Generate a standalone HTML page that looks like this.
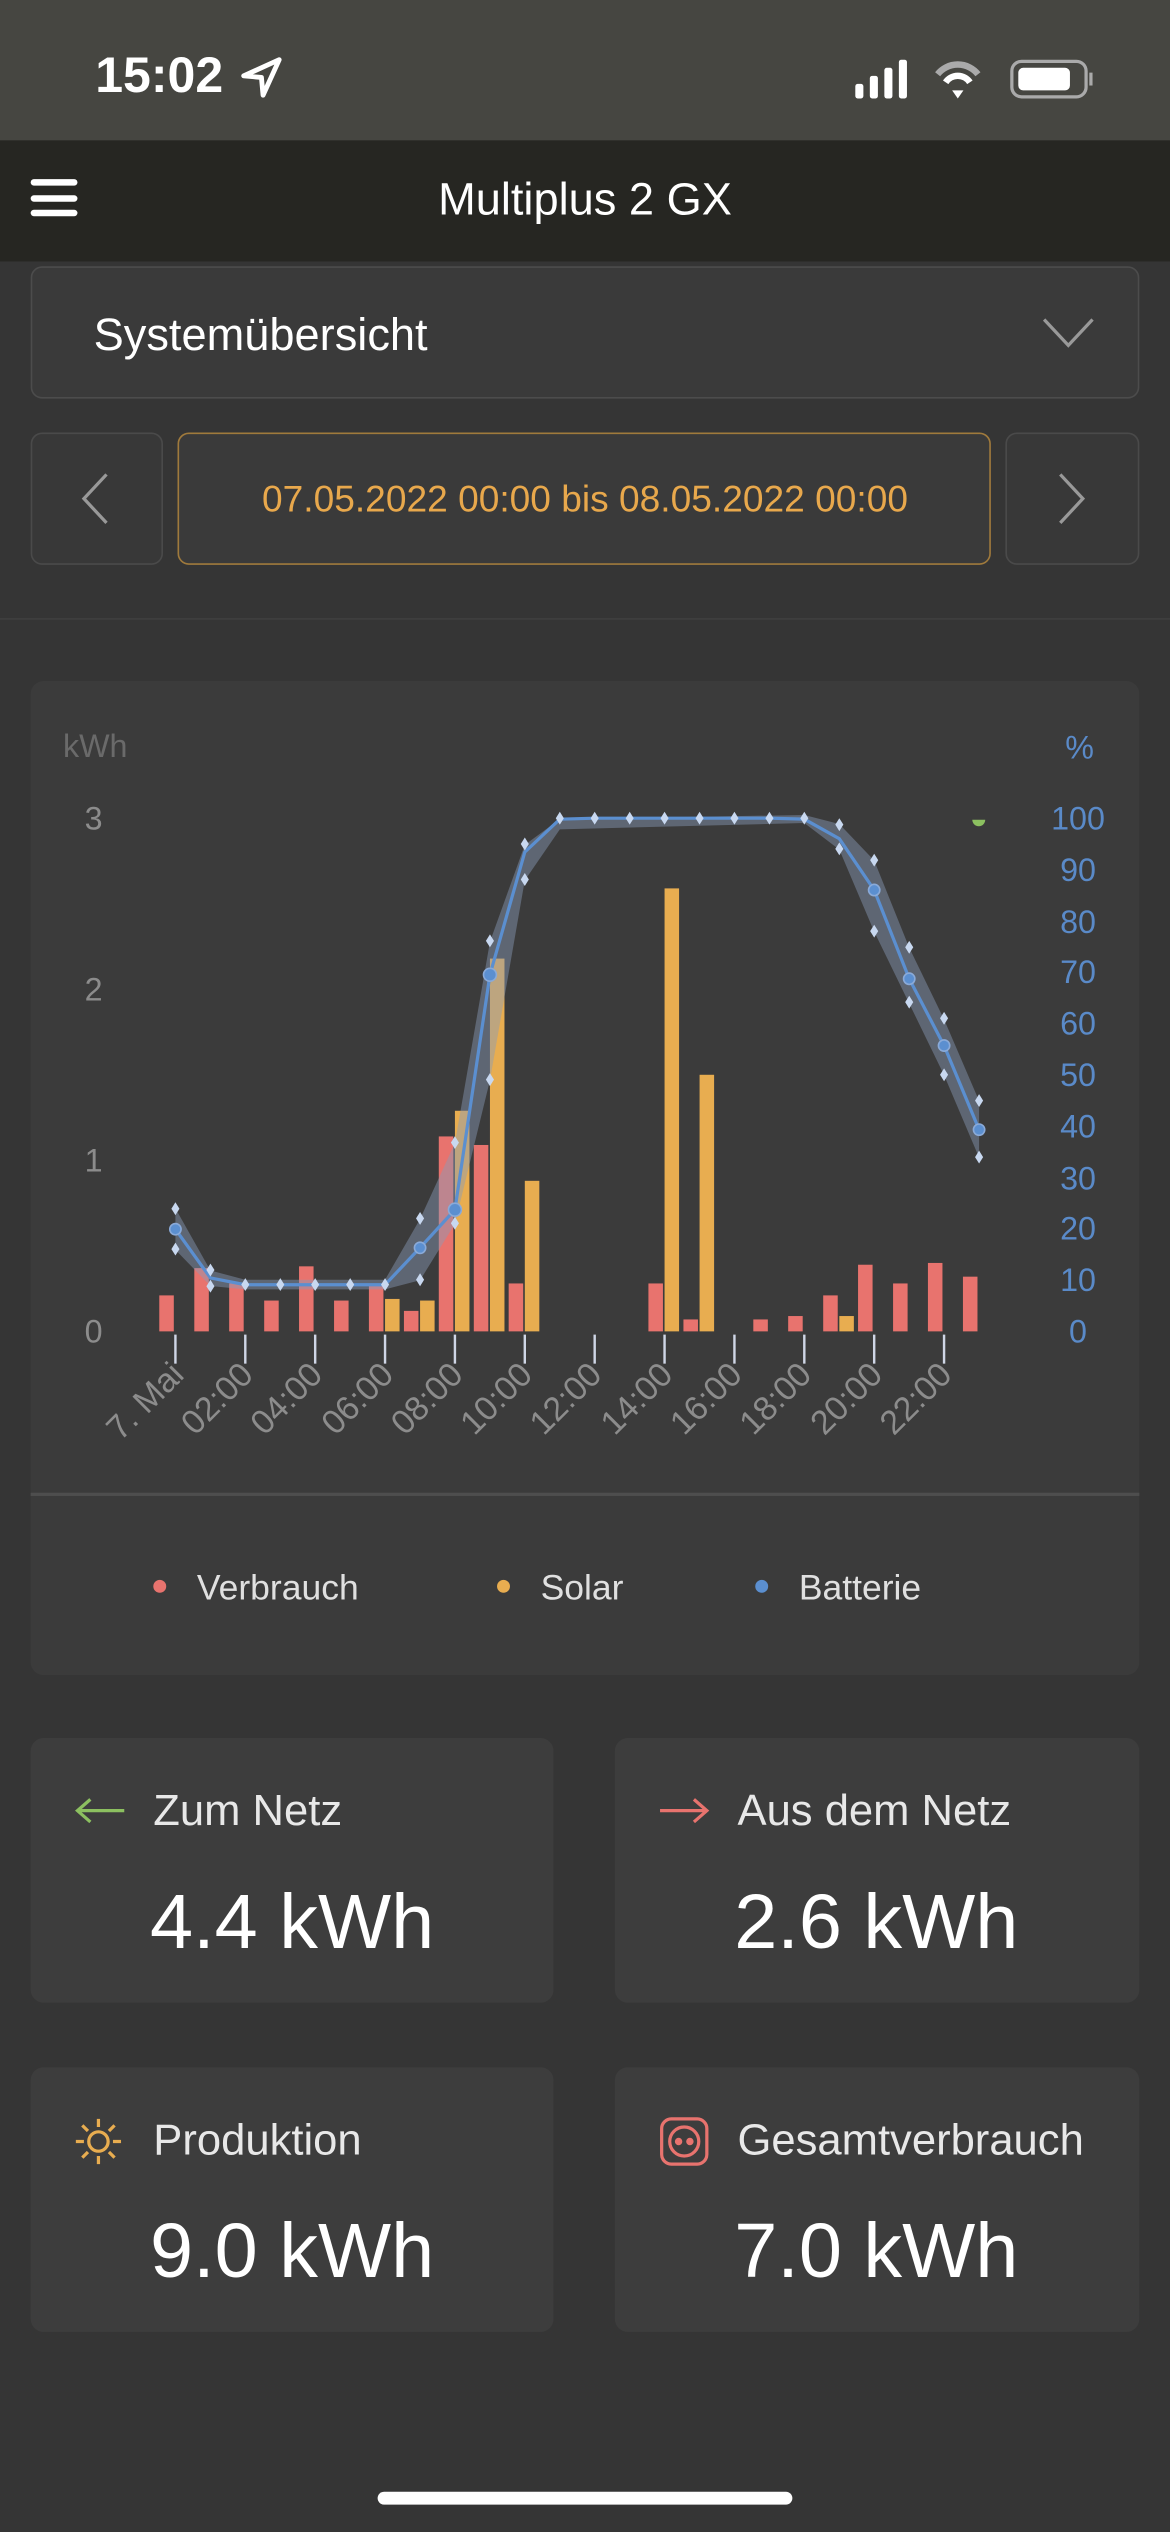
<!DOCTYPE html>
<html><head><meta charset="utf-8"><style>
html,body{margin:0;padding:0;width:1170px;height:2532px;overflow:hidden;background:#353535;}
#w{position:absolute;left:0;top:0;width:725px;height:1569px;transform:scale(1.61379);transform-origin:0 0;background:#353535;font-family:"Liberation Sans",sans-serif;color:#fff;}
.a{position:absolute;}
.card{position:absolute;background:#3d3d3d;border-radius:8px;}
.lbl{position:absolute;font-size:27px;color:#e8e8e8;}
.val{position:absolute;font-size:48px;color:#fff;width:324px;text-align:center;}
</style></head><body><div id="w">
<div class="a" style="left:0;top:0;width:725px;height:87px;background:#464641"></div>
<div class="a" style="left:59px;top:29px;font-size:31px;font-weight:bold;">15:02</div>
<svg class="a" style="left:148px;top:34px" width="28" height="28" viewBox="0 0 28 28"><path d="M25 3 L3 13 L14 14 L15 25 Z" fill="none" stroke="#fff" stroke-width="3" stroke-linejoin="round"/></svg>
<svg class="a" style="left:528px;top:34px" width="150" height="30"><rect x="2" y="18" width="5" height="9" rx="1.5" fill="#fff"/><rect x="11" y="13" width="5" height="14" rx="1.5" fill="#fff"/><rect x="20" y="8" width="5" height="19" rx="1.5" fill="#fff"/><rect x="29" y="3" width="5" height="24" rx="1.5" fill="#fff"/>
<path d="M53 12 a16 16 0 0 1 25 0" stroke="#aaa" stroke-width="4" fill="none"/><path d="M58 17 a9 9 0 0 1 15 0" stroke="#fff" stroke-width="4" fill="none"/><path d="M62 22 L69 22 L65.5 27Z" fill="#fff"/>
<rect x="99" y="4" width="46" height="22" rx="6" fill="none" stroke="#aaa" stroke-width="2"/><rect x="103" y="8" width="32" height="14" rx="3" fill="#fff"/><rect x="147" y="11" width="2" height="8" fill="#aaa"/></svg>
<div class="a" style="left:0;top:87px;width:725px;height:75px;background:#262622"></div>
<div class="a" style="left:19px;top:111px;width:29px;height:4px;background:#fff;border-radius:2px"></div>
<div class="a" style="left:19px;top:121px;width:29px;height:4px;background:#fff;border-radius:2px"></div>
<div class="a" style="left:19px;top:130px;width:29px;height:4px;background:#fff;border-radius:2px"></div>
<div class="a" style="left:0;top:108px;width:725px;text-align:center;font-size:28px;">Multiplus 2 GX</div>
<div class="a" style="left:19px;top:165px;width:685px;height:80px;background:#3a3a3a;border:1.5px solid #4c4c4c;border-radius:7px"></div>
<div class="a" style="left:58px;top:192px;font-size:28px;">Systemübersicht</div>
<svg class="a" style="left:645px;top:195px" width="34" height="24"><path d="M2 3 L17 19 L32 3" stroke="#999" stroke-width="2" fill="none"/></svg>
<div class="a" style="left:19px;top:268px;width:80px;height:80px;border:1.5px solid #4a4a4a;border-radius:7px;background:#383838"></div>
<svg class="a" style="left:48px;top:292px" width="22" height="34"><path d="M18 2 L4 17 L18 32" stroke="#999" stroke-width="2" fill="none"/></svg>
<div class="a" style="left:110px;top:268px;width:502px;height:80px;border:1.5px solid #a07a3c;border-radius:7px;background:#3a3a3a"></div>
<div class="a" style="left:110px;top:296px;width:505px;text-align:center;font-size:23px;color:#e8a84c;">07.05.2022 00:00 bis 08.05.2022 00:00</div>
<div class="a" style="left:623px;top:268px;width:81px;height:80px;border:1.5px solid #4a4a4a;border-radius:7px;background:#383838"></div>
<svg class="a" style="left:653px;top:292px" width="22" height="34"><path d="M4 2 L18 17 L4 32" stroke="#999" stroke-width="2" fill="none"/></svg>
<div class="a" style="left:0;top:383px;width:725px;height:1px;background:#404040"></div>
<div class="card" style="left:19px;top:422px;width:687px;height:616px;background:#3b3b3b"></div>
<div class="a" style="left:19px;top:925px;width:687px;height:1.5px;background:#4e4e4e"></div>
<svg class="a" style="left:0;top:0" width="725" height="1100" font-family="Liberation Sans, sans-serif">
<text x="39" y="469" font-size="20" fill="#6a6a6a">kWh</text>
<text x="669" y="470" font-size="20" fill="#5a8ac8" text-anchor="middle">%</text>
<g font-size="20" fill="#8c8c8c" text-anchor="middle"><text x="58" y="514">3</text><text x="58" y="620">2</text><text x="58" y="726">1</text><text x="58" y="832">0</text></g>
<g font-size="20" fill="#5a8ac8" text-anchor="middle"><text x="668" y="514">100</text><text x="668" y="546">90</text><text x="668" y="578">80</text><text x="668" y="609">70</text><text x="668" y="641">60</text><text x="668" y="673">50</text><text x="668" y="705">40</text><text x="668" y="737">30</text><text x="668" y="768">20</text><text x="668" y="800">10</text><text x="668" y="832">0</text></g>
<g fill="#e8736e">
<rect x="98.7" y="802.7" width="9" height="22.3"/><rect x="120.4" y="785.8" width="9" height="39.2"/><rect x="142" y="795.3" width="9" height="29.7"/><rect x="163.7" y="805.9" width="9" height="19.1"/><rect x="185.3" y="784.7" width="9" height="40.3"/><rect x="207" y="805.9" width="9" height="19.1"/><rect x="228.6" y="796.4" width="9" height="28.6"/><rect x="250.3" y="812.3" width="9" height="12.7"/><rect x="271.9" y="704.2" width="9" height="120.8"/><rect x="293.6" y="709.5" width="9" height="115.5"/><rect x="315.2" y="795.3" width="9" height="29.7"/><rect x="401.8" y="795.3" width="9" height="29.7"/><rect x="423.5" y="817.6" width="9" height="7.4"/><rect x="466.8" y="817.6" width="9" height="7.4"/><rect x="488.4" y="815.5" width="9" height="9.5"/><rect x="510.1" y="802.7" width="9" height="22.3"/><rect x="531.7" y="783.7" width="9" height="41.3"/><rect x="553.4" y="795.3" width="9" height="29.7"/><rect x="575" y="782.6" width="9" height="42.4"/><rect x="596.7" y="791.1" width="9" height="33.9"/>
</g>
<g fill="#e8ad50">
<rect x="238.6" y="804.9" width="9" height="20.1"/><rect x="260.3" y="805.9" width="9" height="19.1"/><rect x="281.9" y="688.3" width="9" height="136.7"/><rect x="303.6" y="594" width="9" height="231"/><rect x="325.2" y="731.7" width="9" height="93.3"/><rect x="411.8" y="550.5" width="9" height="274.5"/><rect x="433.5" y="666" width="9" height="159"/><rect x="520.1" y="815.5" width="9" height="9.5"/>
</g>
<g stroke="#cfd6e6" stroke-width="1.5"><line x1="108.7" y1="827" x2="108.7" y2="845"/><line x1="152" y1="827" x2="152" y2="845"/><line x1="195.3" y1="827" x2="195.3" y2="845"/><line x1="238.6" y1="827" x2="238.6" y2="845"/><line x1="281.9" y1="827" x2="281.9" y2="845"/><line x1="325.2" y1="827" x2="325.2" y2="845"/><line x1="368.5" y1="827" x2="368.5" y2="845"/><line x1="411.8" y1="827" x2="411.8" y2="845"/><line x1="455.1" y1="827" x2="455.1" y2="845"/><line x1="498.4" y1="827" x2="498.4" y2="845"/><line x1="541.7" y1="827" x2="541.7" y2="845"/><line x1="585" y1="827" x2="585" y2="845"/></g>
<g font-size="21" fill="#8c8c8c" text-anchor="end">
<text transform="translate(115,853) rotate(-45)">7. Mai</text><text transform="translate(158,853) rotate(-45)">02:00</text><text transform="translate(201,853) rotate(-45)">04:00</text><text transform="translate(245,853) rotate(-45)">06:00</text><text transform="translate(288,853) rotate(-45)">08:00</text><text transform="translate(331,853) rotate(-45)">10:00</text><text transform="translate(374,853) rotate(-45)">12:00</text><text transform="translate(418,853) rotate(-45)">14:00</text><text transform="translate(461,853) rotate(-45)">16:00</text><text transform="translate(504,853) rotate(-45)">18:00</text><text transform="translate(548,853) rotate(-45)">20:00</text><text transform="translate(591,853) rotate(-45)">22:00</text>
</g>
<path d="M108.7 748.8 L130.4 787.3 L152 793 L238.6 793 L260.3 755.4 L281.9 708.3 L303.6 583.6 L325.2 523.5 L346.9 507.6 L498.4 505 L520.1 510.6 L541.7 533.2 L563.4 587.2 L585 631.7 L606.7 682.2 L606.7 717.3 L585 666.2 L563.4 621.8 L541.7 577.3 L520.1 526.5 L498.4 510 L346.9 513.9 L325.2 545.5 L303.6 669.5 L281.9 758.4 L260.3 793.3 L238.6 799 L152 799 L130.4 796.9 L108.7 774.4 Z" fill="#8a9cb8" fill-opacity="0.45"/>
<polyline points="108.7,761.7 130.4,791.9 152,796.1 173.7,796.1 195.3,796.1 217,796.1 238.6,796.1 260.3,773.2 281.9,749.6 303.6,604 325.2,528 346.9,507.6 368.5,507 390.2,507 411.8,507 433.5,507 455.1,507 476.8,507 498.4,507.6 520.1,519.7 541.7,551.5 563.4,606.5 585,647.9 606.7,700" fill="none" stroke="#5b8fd0" stroke-width="2"/>
<g fill="#c8d8f0"><path d="M108.7 745 l2.5 4 -2.5 4 -2.5 -4z"/><path d="M108.7 770 l2.5 4 -2.5 4 -2.5 -4z"/><path d="M130.4 783 l2.5 4 -2.5 4 -2.5 -4z"/><path d="M130.4 793 l2.5 4 -2.5 4 -2.5 -4z"/><path d="M152 792 l2.5 4 -2.5 4 -2.5 -4z"/><path d="M173.7 792 l2.5 4 -2.5 4 -2.5 -4z"/><path d="M195.3 792 l2.5 4 -2.5 4 -2.5 -4z"/><path d="M217 792 l2.5 4 -2.5 4 -2.5 -4z"/><path d="M238.6 792 l2.5 4 -2.5 4 -2.5 -4z"/><path d="M260.3 751 l2.5 4 -2.5 4 -2.5 -4z"/><path d="M260.3 789 l2.5 4 -2.5 4 -2.5 -4z"/><path d="M281.9 704 l2.5 4 -2.5 4 -2.5 -4z"/><path d="M281.9 754 l2.5 4 -2.5 4 -2.5 -4z"/><path d="M303.6 579 l2.5 4 -2.5 4 -2.5 -4z"/><path d="M303.6 665 l2.5 4 -2.5 4 -2.5 -4z"/><path d="M325.2 519 l2.5 4 -2.5 4 -2.5 -4z"/><path d="M325.2 541 l2.5 4 -2.5 4 -2.5 -4z"/><path d="M346.9 503 l2.5 4 -2.5 4 -2.5 -4z"/><path d="M368.5 503 l2.5 4 -2.5 4 -2.5 -4z"/><path d="M390.2 503 l2.5 4 -2.5 4 -2.5 -4z"/><path d="M411.8 503 l2.5 4 -2.5 4 -2.5 -4z"/><path d="M433.5 503 l2.5 4 -2.5 4 -2.5 -4z"/><path d="M455.1 503 l2.5 4 -2.5 4 -2.5 -4z"/><path d="M476.8 503 l2.5 4 -2.5 4 -2.5 -4z"/><path d="M498.4 503 l2.5 4 -2.5 4 -2.5 -4z"/><path d="M520.1 507 l2.5 4 -2.5 4 -2.5 -4z"/><path d="M520.1 522 l2.5 4 -2.5 4 -2.5 -4z"/><path d="M541.7 529 l2.5 4 -2.5 4 -2.5 -4z"/><path d="M541.7 573 l2.5 4 -2.5 4 -2.5 -4z"/><path d="M563.4 583 l2.5 4 -2.5 4 -2.5 -4z"/><path d="M563.4 617 l2.5 4 -2.5 4 -2.5 -4z"/><path d="M585 627 l2.5 4 -2.5 4 -2.5 -4z"/><path d="M585 662 l2.5 4 -2.5 4 -2.5 -4z"/><path d="M606.7 678 l2.5 4 -2.5 4 -2.5 -4z"/><path d="M606.7 713 l2.5 4 -2.5 4 -2.5 -4z"/></g>
<g fill="#5b8fd0" stroke="#8aaad8" stroke-width="1"><circle cx="108.7" cy="761.7" r="3.5"/><circle cx="260.3" cy="773.2" r="3.5"/><circle cx="281.9" cy="749.6" r="4"/><circle cx="303.6" cy="604" r="4"/><circle cx="541.7" cy="551.5" r="3.5"/><circle cx="563.4" cy="606.5" r="3.5"/><circle cx="585" cy="647.9" r="3.5"/><circle cx="606.7" cy="700" r="3.5"/></g>
<path d="M602.5 508 a4 4 0 0 0 8 0 z" fill="#8cc060"/>
<circle cx="99" cy="983" r="4" fill="#e8736e"/><text x="122" y="991" font-size="22" fill="#e0e0e0">Verbrauch</text>
<circle cx="312" cy="983" r="4" fill="#e8ad50"/><text x="335" y="991" font-size="22" fill="#e0e0e0">Solar</text>
<circle cx="472" cy="983" r="4" fill="#5b8fd0"/><text x="495" y="991" font-size="22" fill="#e0e0e0">Batterie</text>
</svg>
<div class="card" style="left:19px;top:1077px;width:324px;height:164px"></div>
<div class="card" style="left:381px;top:1077px;width:325px;height:164px"></div>
<div class="card" style="left:19px;top:1281px;width:324px;height:164px"></div>
<div class="card" style="left:381px;top:1281px;width:325px;height:164px"></div>
<svg class="a" style="left:44px;top:1112px" width="36" height="20"><path d="M33 10 H4 M12 3 L4 10 L12 17" stroke="#8cc060" stroke-width="2" fill="none"/></svg>
<div class="lbl" style="left:95px;top:1107px">Zum Netz</div>
<div class="val" style="left:19px;top:1164px">4.4 kWh</div>
<svg class="a" style="left:406px;top:1112px" width="36" height="20"><path d="M3 10 H32 M24 3 L32 10 L24 17" stroke="#e8736e" stroke-width="2" fill="none"/></svg>
<div class="lbl" style="left:457px;top:1107px">Aus dem Netz</div>
<div class="val" style="left:381px;top:1164px">2.6 kWh</div>
<svg class="a" style="left:45px;top:1311px" width="32" height="32" stroke="#e8ad50" stroke-width="2" fill="none"><circle cx="16" cy="16" r="6"/><path d="M16 2v5M16 25v5M2 16h5M25 16h5M6 6l3.5 3.5M22.5 22.5L26 26M6 26l3.5-3.5M22.5 9.5L26 6"/></svg>
<div class="lbl" style="left:95px;top:1311px">Produktion</div>
<div class="val" style="left:19px;top:1368px">9.0 kWh</div>
<svg class="a" style="left:408px;top:1311px" width="32" height="32" stroke="#e8736e" stroke-width="2" fill="none"><rect x="2" y="2" width="28" height="28" rx="6"/><circle cx="16" cy="16" r="9"/><circle cx="12.5" cy="16" r="1.3" fill="#e8736e"/><circle cx="19.5" cy="16" r="1.3" fill="#e8736e"/></svg>
<div class="lbl" style="left:457px;top:1311px">Gesamtverbrauch</div>
<div class="val" style="left:381px;top:1368px">7.0 kWh</div>
<div class="a" style="left:234px;top:1544px;width:257px;height:8px;border-radius:4px;background:#fff"></div>
</div></body></html>
